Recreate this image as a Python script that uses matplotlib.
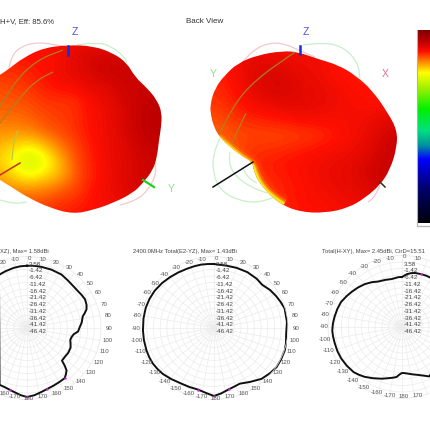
import numpy as np
import matplotlib
matplotlib.use("Agg")
import matplotlib.pyplot as plt
from matplotlib.colors import LinearSegmentedColormap
from matplotlib.patches import PathPatch
from matplotlib.path import Path

plt.rcParams["font.family"] = ["Liberation Sans", "DejaVu Sans"]

# colour scale of the bar on the right, top to bottom
bar_pos = [0, .06, .11, .16, .22, .30, .41, .52, .60, .67, .82, 1]
bar_col = ["#800000", "#c00000", "#ff1000", "#ff8000", "#ffff00", "#a0f000",
           "#00f000", "#00e080", "#0090a0", "#0000ff", "#000070", "#000008"]

# 3D pattern, front view: outline and colour-scale value on a coarse grid
front_x = [-12, 0, 10, 23, 43, 68, 93, 113, 127, 135, 147, 157, 162, 161, 159, 157, 153, 143, 133, 113, 93, 73, 50, 27, 13, 0, -12]
front_y = [82, 75, 68, 58, 48, 45, 46, 53, 63, 77, 88, 100, 113, 128, 140, 157, 170, 183, 193, 203, 210, 214, 208, 197, 188, 180, 172]
front_val = [
    [.10, .10, .10, .10, .10, .10, .10, .10, .10, .10, .10, .10],
    [.11, .11, .11, .11, .105, .09, .08, .08, .08, .09, .09, .09],
    [.125, .125, .115, .11, .10, .09, .08, .07, .07, .07, .08, .08],
    [.135, .13, .125, .115, .105, .10, .09, .085, .075, .07, .07, .08],
    [.145, .14, .135, .125, .125, .125, .105, .095, .08, .07, .065, .06],
    [.15, .15, .145, .135, .13, .125, .11, .10, .085, .07, .06, .055],
    [.165, .165, .16, .145, .135, .125, .11, .10, .085, .07, .06, .06],
    [.185, .20, .21, .185, .155, .135, .115, .10, .09, .075, .065, .065],
    [.20, .23, .27, .235, .185, .14, .12, .10, .09, .08, .07, .07],
    [.18, .21, .23, .21, .19, .145, .12, .105, .09, .08, .07, .07],
    [.16, .165, .165, .16, .145, .135, .115, .10, .09, .08, .08, .08],
    [.13, .135, .135, .135, .125, .12, .11, .105, .10, .09, .09, .09],
    [.12, .12, .12, .12, .115, .11, .11, .105, .10, .10, .10, .10],
]

# 3D pattern, back view
back_x = [210, 215, 225, 238, 258, 282, 298, 318, 338, 355, 372, 388, 397, 397, 390, 380, 365, 348, 325, 300, 280, 263, 254, 253, 240, 220, 214, 211]
back_y = [105, 88, 75, 63, 55, 51, 52, 59, 65, 75, 90, 113, 130, 147, 170, 185, 198, 208, 213, 212, 204, 188, 173, 162, 155, 138, 127, 116]
back_val = [
    [.10, .10, .10, .10, .10, .10, .10, .10, .10, .10, .10, .10, .10],
    [.11, .11, .10, .09, .095, .10, .10, .10, .11, .11, .11, .11, .11],
    [.12, .115, .10, .085, .08, .085, .095, .10, .11, .115, .12, .12, .12],
    [.125, .12, .105, .09, .08, .08, .09, .095, .10, .11, .11, .115, .11],
    [.13, .125, .115, .10, .095, .09, .09, .095, .10, .105, .11, .11, .10],
    [.14, .135, .125, .12, .115, .11, .105, .105, .105, .105, .10, .09, .09],
    [.15, .145, .135, .135, .135, .135, .13, .125, .115, .105, .095, .08, .07],
    [.16, .15, .135, .125, .125, .12, .115, .11, .105, .10, .09, .075, .065],
    [.18, .16, .135, .12, .115, .11, .105, .10, .095, .09, .08, .07, .07],
    [.18, .17, .15, .13, .12, .115, .11, .10, .095, .09, .08, .07, .07],
    [.16, .16, .15, .14, .125, .115, .11, .105, .10, .095, .09, .08, .08],
    [.13, .13, .13, .13, .125, .12, .11, .11, .105, .10, .10, .10, .10],
]
# bright rim along the lower left of the back view
rim_x = [218, 230, 242, 253, 256, 263, 272, 284]
rim_y = [137, 147, 157, 164, 175, 187, 196, 204]

# polar cuts: angle in degrees, gain in dB
xz_ang = [0, 6, 13, 22, 32, 40, 47, 53, 58, 63, 68, 72, 75, 78, 84, 90, 94, 98, 102, 106, 110, 115, 122, 128, 134, 136, 138, 141, 144, 150, 156, 162, 168, 174, 180, -175, -170, -165, -160, -155, -27, -20, -12, -6]
xz_db = [-3.51, -3.3, -3.2, -3.0, -2.97, -3.9, -4.3, -4.12, -3.5, -2.97, -3.7, -4.89, -7, -9.12, -10.5, -12.5, -13.35, -16.43, -17.6, -17.97, -17, -15.66, -15.3, -15.6, -15.28, -11, -7.5, -5.5, -3.74, -3.4, -2.9, -2.2, -1, 0.6, 1.64, 0.5, -1, -2.2, -3, -3.2, -5.51, -4.9, -4.12, -3.7]
xz_mark = [144, 162, 180, -165]

yz_ang = [0, 11, 20, 30, 40, 47, 55, 62, 68, 74, 85, 95, 102, 108, 116, 123, 130, 138, 147, 156, 162, 167, 174, 180, -174, -166, -158, -150, -141, -133, -127, -121, -115, -109, -100, -92, -82, -73, -65, -57, -48, -40, -32, -24, -17, -11, -5]
yz_db = [-2.2, -2.59, -2.2, -1.82, -2.0, -2.59, -0.5, 0.87, 2.0, 3.18, 3.0, 2.41, 3.3, 3.95, 4.0, 3.95, 2.8, 1.26, -2, -4.51, -3.8, -2.97, -0.8, 0.87, -0.9, -2.59, -2.5, -2.2, -0.9, 0.49, 1.1, 1.64, 1.7, 1.64, 1.5, 1.41, 1.5, 1.64, 1.5, 1.18, 0.4, -0.44, -1.1, -1.59, -1.7, -1.74, -2]
yz_mark = [167, 180, -166]

xy_ang = [0, 5, 9, 13, 19, 25, 40, 90, 152, 157, 162, 168, 173, 177, 180, -177, -174, -170, -165, -159, -151, -144, -139, -134, -126, -118, -111, -104, -98, -93, -87, -81, -74, -67, -60, -54, -47, -40, -33, -27, -19, -12, -8, -4]
xy_db = [-12.97, -10.66, -9.5, -8.74, -8.36, -8, -7, -5, -8.36, -10.8, -12.66, -14.2, -15.28, -15.9, -16.05, -14.8, -12.74, -11.8, -10.6, -8.82, -6.4, -4.05, -2.7, -1.44, -0.7, -0.13, 0.05, 0.1, 0.35, 0.49, 0, -0.67, -1.4, -2.2, -3.9, -5.28, -6.8, -8.36, -10.3, -12.2, -13.1, -13.74, -13.5, -12.97]
xy_mark = [19]

ring_db = [3.58, -1.42, -6.42, -11.42, -16.42, -21.42, -26.42, -31.42, -36.42, -41.42, -46.42]
ring_txt = ["3.58", "-1.42", "-6.42", "-11.42", "-16.42", "-21.42", "-26.42", "-31.42", "-36.42", "-41.42", "-46.42"]
ang_ticks = list(range(-170, 190, 10))


def smooth_path(px, py, closed=False):
    # quadratic curve through the midpoints of the read points
    pts = np.column_stack([px, py]).astype(float)
    if closed:
        pts = np.vstack([pts, pts[:2]])
    verts = [pts[0] if not closed else (pts[0] + pts[1]) / 2]
    codes = [Path.MOVETO]
    for i in range(1, len(pts) - 1):
        verts += [pts[i], (pts[i] + pts[i + 1]) / 2]
        codes += [Path.CURVE3, Path.CURVE3]
    if not closed:
        verts += [pts[-1]]
        codes += [Path.LINETO]
    return Path(verts, codes)


W = 430
fig = plt.figure(figsize=(4.3, 4.3), dpi=100)

ax = fig.add_axes([0, 0, 1, 1])
ax.axis("off")

cmap = LinearSegmentedColormap.from_list("bar", list(zip(bar_pos, bar_col)))


def arc(px, py, col, lw=0.9, z=1):
    ax.add_patch(PathPatch(smooth_path(px, py), fc="none", ec=col, lw=lw, zorder=z))


# pale cuts behind the front view
pink = "#f4c8cc"
pale = "#c8f0c8"
arc([9, 11, 20, 37, 57, 68], [68, 57, 47, 42, 45, 47], pink)
arc([77, 97, 113, 125, 127], [45, 42, 47, 58, 63], pale)
arc([155, 157, 148, 137, 120], [163, 173, 190, 200, 205], pink)
arc([0, 13, 27], [200, 204, 202], pale)

# pale cuts behind the back view
arc([242, 252, 272, 288, 298, 315], [63, 50, 42, 45, 50, 57], pink)
arc([303, 325, 345, 358, 360], [45, 42, 48, 63, 78], pale)
arc([380, 375, 368], [185, 197, 202], pink)
arc([220, 213, 213, 220, 237, 257, 275], [138, 153, 173, 190, 200, 203, 197], pale)
arc([230, 228, 237, 253, 267], [152, 163, 178, 188, 193], pale)
arc([242, 247, 257], [167, 177, 183], pale)

# front view blob
patch = PathPatch(smooth_path(front_x, front_y, closed=True), fc="none", ec="none")
ax.add_patch(patch)
im = ax.imshow(np.array(front_val), cmap=cmap, vmin=0, vmax=1, extent=(-7.5, 172.5, 227.5, 32.5),
               interpolation="bicubic", aspect="auto", zorder=2)
im.set_clip_path(patch)
arc([0, 13, 37, 63], [107, 83, 60, 50], "#a88020", z=3)
arc([0, 20, 37, 53], [123, 97, 80, 72], "#b08020", z=3)
arc([12, 13, 18], [160, 143, 130], "#b8c840", 0.8, z=3)

# back view blob
patch2 = PathPatch(smooth_path(back_x, back_y, closed=True), fc="none", ec="none")
ax.add_patch(patch2)
im2 = ax.imshow(np.array(back_val), cmap=cmap, vmin=0, vmax=1, extent=(200, 408, 217.5, 37.5),
                interpolation="bicubic", aspect="auto", zorder=2)
im2.set_clip_path(patch2)
for lw, col, al in [(12, "#ff5000", 0.25), (7, "#ff8000", 0.5), (4, "#ffb000", 0.8), (2, "#f0e820", 1)]:
    rim = PathPatch(smooth_path(rim_x, rim_y), fc="none", ec=col, lw=lw, alpha=al, zorder=2.5)
    ax.add_patch(rim)
    rim.set_clip_path(patch2)
arc([220, 232, 255, 295], [133, 107, 80, 52], "#a88020", z=3)
arc([232, 238, 246], [143, 130, 113], "#b08020", z=3)

# axis stubs
ax.plot([68, 68], [46, 55], color="#1030e0", lw=1.8, zorder=4)
ax.plot([300, 300], [46, 54], color="#1030e0", lw=1.8, zorder=4)
ax.plot([143, 154], [180, 187], color="#20d020", lw=1.6, zorder=4)
ax.plot([0, 20], [175, 163], color="#c03030", lw=1.1, zorder=4)
ax.plot([213, 253], [187, 162], color="#101010", lw=1.1, zorder=4)
ax.plot([380, 385], [182, 187], color="#303010", lw=1.1, zorder=4)

# axis letters
ax.text(75, 32, "Z", color="#5050e0", fontsize=7.5, ha="center", va="center")
ax.text(306, 32, "Z", color="#5050e0", fontsize=7.5, ha="center", va="center")
ax.text(171, 189, "Y", color="#90e090", fontsize=7.5, ha="center", va="center")
ax.text(213, 74, "Y", color="#90e090", fontsize=7.5, ha="center", va="center")
ax.text(385, 74, "X", color="#e07090", fontsize=7.5, ha="center", va="center")

ax.text(0, 21.5, "H+V, Eff: 85.6%", color="#333333", fontsize=5.6, ha="left", va="center")
ax.text(186, 21.5, "Back View", color="#333333", fontsize=5.8, ha="left", va="center")

# colour bar
grad = np.linspace(0, 1, 256).reshape(-1, 1)
ax.imshow(grad, cmap=cmap, vmin=0, vmax=1, extent=(417, 431, 223, 30), aspect="auto", zorder=2)
ax.plot([416.5, 416.5], [30, 225], color="#b0b0b0", lw=0.8)
ax.plot([416.5, 430], [226, 226], color="#b8b8b8", lw=1)
ax.set_xlim(0, W)
ax.set_ylim(W, 0)

# polar cuts
centres = [(27, 328), (214, 328), (402, 327)]
angs = [xz_ang, yz_ang, xy_ang]
gains = [xz_db, yz_db, xy_db]
marks = [xz_mark, yz_mark, xy_mark]
rx, ry = 74, 71.5
for (cx, cy), a, g, m in zip(centres, angs, gains, marks):
    pax = fig.add_axes([(cx - rx) / W, 1 - (cy + ry) / W, 2 * rx / W, 2 * ry / W], projection="polar")
    pax.set_aspect("auto")
    pax.patch.set_alpha(0)
    pax.set_theta_zero_location("N")
    pax.set_theta_direction(-1)
    pax.set_rlim(-51.42, 3.58)
    pax.set_rticks(ring_db)
    pax.set_thetagrids(np.arange(0, 360, 10))
    pax.set_xticklabels([])
    pax.set_yticklabels([])
    pax.grid(True, color="#ebebeb", lw=0.5)
    pax.spines["polar"].set_color("#ebebeb")
    pax.spines["polar"].set_linewidth(0.5)
    th = np.radians(a + a[:1])
    pax.plot(th, g + g[:1], color="#101010", lw=1.4, clip_on=False, solid_joinstyle="round")
    mk_db = [g[a.index(v)] for v in m]
    pax.scatter(np.radians(m), mk_db, s=3, color="#e020e0", lw=0, zorder=5, clip_on=False)

    # labels go on top in pixel coordinates
    for v in ang_ticks:
        tx = cx + 2 + 80 * np.sin(np.radians(v))
        ty = cy - 70 * np.cos(np.radians(v))
        if tx < -6 or tx > W:
            continue
        if tx < 3:
            # the picture's left edge takes the minus sign off these two
            ax.text(0, ty, str(-v), color="#555555", fontsize=4.4, ha="left", va="center", zorder=6)
            continue
        ax.text(tx, ty, str(v), color="#555555", fontsize=4.4, ha="center", va="center", zorder=6)
    for i, s in enumerate(ring_txt):
        ax.text(cx + 2, 264 + i * 6.77, s, color="#444444", fontsize=4.5, ha="left", va="center", zorder=6)

ax.set_zorder(5)
ax.patch.set_alpha(0)

ax.text(0, 251, "XZ), Max= 1.58dBi", color="#444444", fontsize=4.25, ha="left", va="center", zorder=6)
ax.text(133, 251, "2400.0MHz Total(E2-YZ), Max= 1.43dBi", color="#444444", fontsize=4.25, ha="left", va="center", zorder=6)
ax.text(322, 251, "Total(H-XY), Max= 2.45dBi, CirD=15.51", color="#444444", fontsize=4.25, ha="left", va="center", zorder=6)

fig.savefig("out.png", dpi=100)
